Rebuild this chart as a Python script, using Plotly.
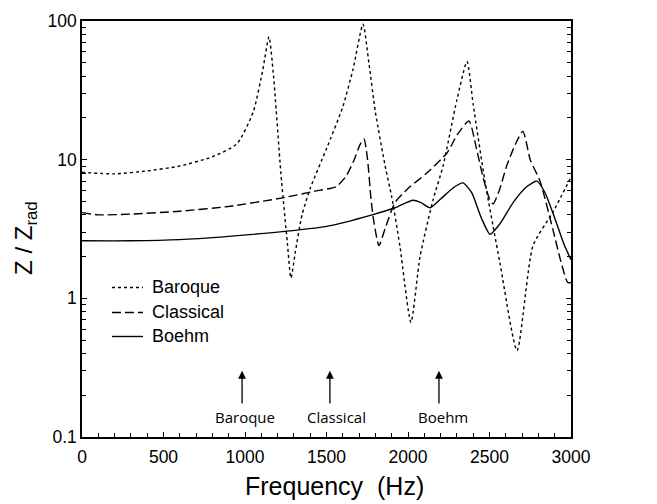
import math
import plotly.graph_objects as go

# ---- data ----
baroque_f = [0, 200, 400, 600, 800, 950, 1050, 1110, 1147, 1175, 1220, 1260, 1282, 1310, 1350, 1400,
             1500, 1600, 1663, 1724, 1760, 1800, 1860, 1900, 1950, 2018, 2074, 2155, 2215, 2300,
             2362, 2400, 2472, 2564, 2669, 2767, 2890, 3000]
baroque_z = [8.1, 7.9, 8.3, 9.0, 10.5, 13, 22, 45, 77, 40, 8, 2.5, 1.4, 2.2, 4.0, 6.2,
             12, 24, 45, 95, 50, 22, 9, 5.4, 2.4, 0.67, 2.0, 5.2, 9, 27,
             51, 25, 7, 1.8, 0.42, 2.4, 4.2, 7.5]

classical_f = [0, 100, 300, 600, 900, 1230, 1420, 1560, 1620, 1670, 1705, 1730, 1752, 1773, 1790, 1822,
               1860, 1920, 2000, 2115, 2240, 2300, 2374, 2420, 2460, 2500, 2522, 2560, 2605, 2660,
               2705, 2750, 2810, 2890, 2935, 2980, 3000]
classical_z = [4.15, 4.0, 4.05, 4.25, 4.6, 5.3, 5.9, 6.4, 7.6, 10, 12.8, 14.1, 10, 5.2, 3.6, 2.4,
               3.2, 4.9, 6.2, 8.0, 11.2, 15, 19, 12, 7.5, 5.2, 4.8, 6, 9, 13,
               16, 10, 7.0, 3.1, 1.9, 1.3, 1.3]

boehm_f = [0, 300, 600, 900, 1200, 1500, 1780, 1920, 2031, 2080, 2135, 2200, 2280, 2337, 2390,
           2450, 2503, 2560, 2650, 2730, 2791, 2840, 2900, 2960, 3000]
boehm_z = [2.6, 2.6, 2.65, 2.8, 3.0, 3.3, 4.0, 4.5, 5.1, 4.9, 4.5, 5.2, 6.3, 6.8, 5.8,
           3.8, 2.9, 3.4, 5.0, 6.4, 7.0, 5.8, 3.8, 2.4, 1.9]

series_names = ["Baroque", "Classical", "Boehm"]
series_dash = ["3px,3px", "9px,4px", "solid"]

arrow_freqs = [982, 1521, 2190]
arrow_label_freqs = [1000, 1562, 2215]
arrow_labels = ["Baroque", "Classical", "Boehm"]
arrow_bottom = 0.17
arrow_top = 0.30
arrow_label_z = 0.139

x_ticks = [0, 500, 1000, 1500, 2000, 2500, 3000]
y_ticks = [0.1, 1, 10, 100]
y_ticktext = ["0.1", "1", "10", "100"]

FONT = "Liberation Sans, Arial"

fig = go.Figure()
for name, f, z, dash in zip(series_names, [baroque_f, classical_f, boehm_f],
                            [baroque_z, classical_z, boehm_z], series_dash):
    fig.add_trace(go.Scatter(x=f, y=z, mode="lines", name=name, showlegend=False,
                             line=dict(color="black", width=1.4, dash=dash,
                                       shape="spline", smoothing=0.6)))

# hand-drawn legend (paper coordinates)
leg_x0, leg_x1, leg_tx = 0.0613, 0.1247, 0.139
leg_ys = [0.3594, 0.2993, 0.2416]
for name, dash, ly in zip(series_names, series_dash, leg_ys):
    fig.add_shape(type="line", xref="paper", yref="paper", x0=leg_x0, x1=leg_x1, y0=ly, y1=ly,
                  line=dict(color="black", width=1.4, dash=dash))
    fig.add_annotation(x=leg_tx, y=ly, xref="paper", yref="paper", text=name, showarrow=False,
                       xanchor="left", yanchor="middle",
                       font=dict(family=FONT, size=18, color="black"))

for fr, lf, lab in zip(arrow_freqs, arrow_label_freqs, arrow_labels):
    fig.add_annotation(x=fr, y=math.log10(arrow_top), ax=fr, ay=math.log10(arrow_bottom),
                       xref="x", yref="y", axref="x", ayref="y", text="", showarrow=True,
                       arrowhead=2, arrowsize=1.2, arrowwidth=1.3, arrowcolor="black")
    fig.add_annotation(x=lf, y=math.log10(arrow_label_z), xref="x", yref="y", text=lab,
                       showarrow=False, font=dict(family="Open Sans", size=15, color="black"))

# axis titles
fig.add_annotation(x=0.517, y=-0.117, xref="paper", yref="paper", text="Frequency  (Hz)",
                   showarrow=False, xanchor="center", yanchor="middle",
                   font=dict(family=FONT, size=25, color="black"))
fig.add_annotation(x=-0.117, y=0.478, xref="paper", yref="paper", text="Z / Z<sub>rad</sub>",
                   showarrow=False, textangle=-90, xanchor="center", yanchor="middle",
                   font=dict(family=FONT, size=24, color="black"))

axis_common = dict(showgrid=False, zeroline=False, showline=True, linecolor="black", linewidth=1.5,
                   ticks="inside", tickcolor="black", tickwidth=1, ticklen=5,
                   tickfont=dict(family=FONT, size=17.5, color="black"))

fig.update_xaxes(range=[0, 3000], tickvals=x_ticks, mirror=True, ticklabelstandoff=3,
                 minor=dict(dtick=100, ticks="inside", ticklen=4, tickcolor="black"),
                 **axis_common)
fig.update_yaxes(type="log", range=[-1, 2], tickvals=y_ticks, ticktext=y_ticktext,
                 mirror="ticks",
                 minor=dict(ticks="inside", ticklen=4, tickcolor="black",
                            tickvals=[k * 10 ** e for e in (-1, 0, 1) for k in range(2, 10)]),
                 **axis_common)

fig.update_layout(width=657, height=504, margin=dict(l=82, r=86, t=21, b=67),
                  plot_bgcolor="white", paper_bgcolor="white", showlegend=False)

fig.write_html("out.html")
